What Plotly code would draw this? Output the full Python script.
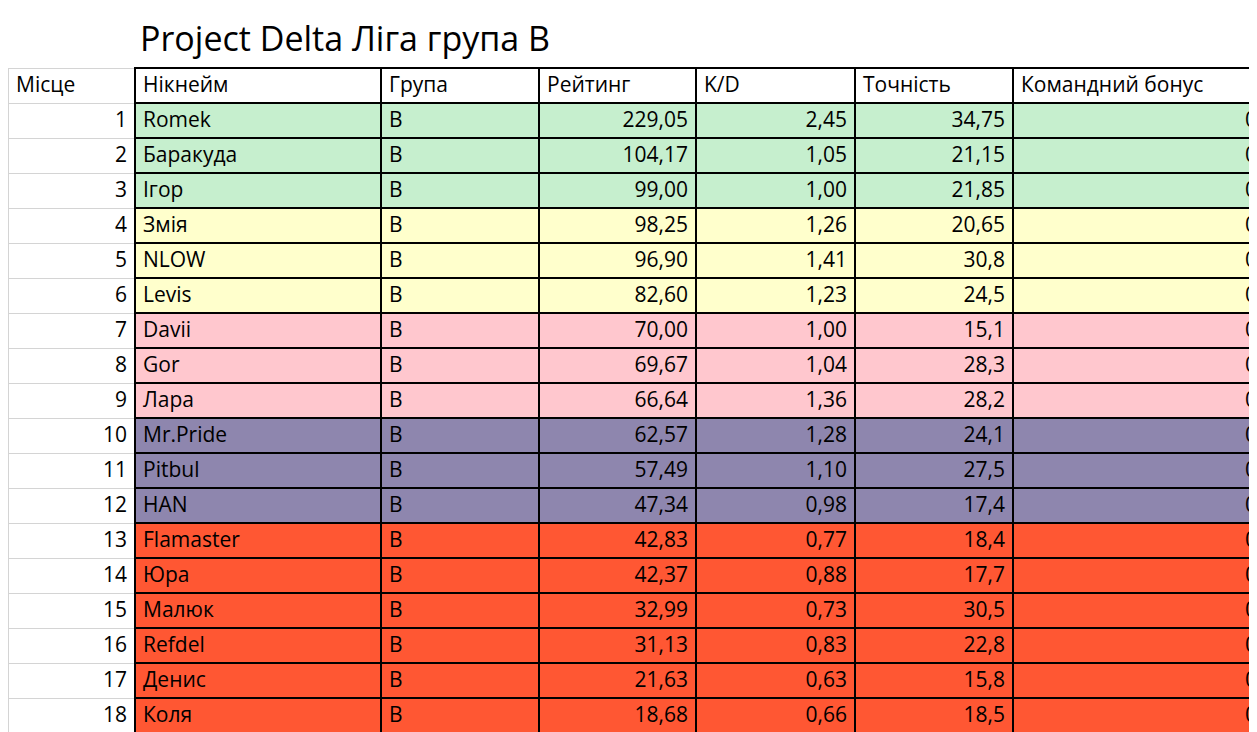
import plotly.graph_objects as go

title = "Project Delta Ліга група B"
headers = ["Місце", "Нікнейм", "Група", "Рейтинг", "K/D", "Точність", "Командний бонус"]
places = list(range(1, 19))
nicks = ["Romek", "Баракуда", "Ігор", "Змія", "NLOW", "Levis", "Davii", "Gor", "Лара",
         "Mr.Pride", "Pitbul", "HAN", "Flamaster", "Юра", "Малюк", "Refdel", "Денис", "Коля"]
groups = ["B"] * 18
rating = [229.05, 104.17, 99.00, 98.25, 96.90, 82.60, 70.00, 69.67, 66.64,
          62.57, 57.49, 47.34, 42.83, 42.37, 32.99, 31.13, 21.63, 18.68]
kd = [2.45, 1.05, 1.00, 1.26, 1.41, 1.23, 1.00, 1.04, 1.36,
      1.28, 1.10, 0.98, 0.77, 0.88, 0.73, 0.83, 0.63, 0.66]
accuracy = ["34,75", "21,15", "21,85", "20,65", "30,8", "24,5", "15,1", "28,3", "28,2",
            "24,1", "27,5", "17,4", "18,4", "17,7", "30,5", "22,8", "15,8", "18,5"]
bonus = [0] * 18
tiers = [3, 3, 3, 3, 3, 3]  # green, yellow, pink, purple, then 6 orange
tier_colors = ["#C6EFCE", "#FFFFCC", "#FFC7CE", "#8E86AE", "#FF5733"]
tier_sizes = [3, 3, 3, 3, 6]

row_colors = []
for c, n in zip(tier_colors, tier_sizes):
    row_colors += [c] * n

fmt = lambda v: f"{v:.2f}".replace(".", ",")

cols = [places, nicks, groups, [fmt(v) for v in rating], [fmt(v) for v in kd], accuracy, bonus]
fills = [["white"] * 18] + [row_colors] * 6
aligns = ["right", "left", "left", "right", "right", "right", "right"]
widths = [127, 246, 158, 157, 159, 158, 252]

fig = go.Figure(go.Table(
    columnwidth=widths,
    domain=dict(x=[0, 1], y=[0, 1 - 60 / 732]),
    header=dict(values=headers, align=["left"] + ["left"] * 6, height=35,
                fill_color="white",
                line=dict(color=["#D4D4D4"] + ["black"] * 6, width=[1] + [2] * 6),
                font=dict(family="Open Sans", size=21, color="black")),
    cells=dict(values=cols, align=aligns, height=35, fill_color=fills,
               line=dict(color=["#D4D4D4"] + ["black"] * 6, width=[1] + [2] * 6),
               font=dict(family="Open Sans", size=21, color="black")),
))
fig.add_annotation(text=title, x=130 / 1257, y=1 - 30 / 732, xref="paper", yref="paper",
                   xanchor="left", yanchor="middle", showarrow=False,
                   font=dict(family="Open Sans", size=34, color="black"))
fig.update_layout(width=1257, height=732, margin=dict(l=0, r=0, t=0, b=0),
                  paper_bgcolor="white")
fig.write_html("out.html")
